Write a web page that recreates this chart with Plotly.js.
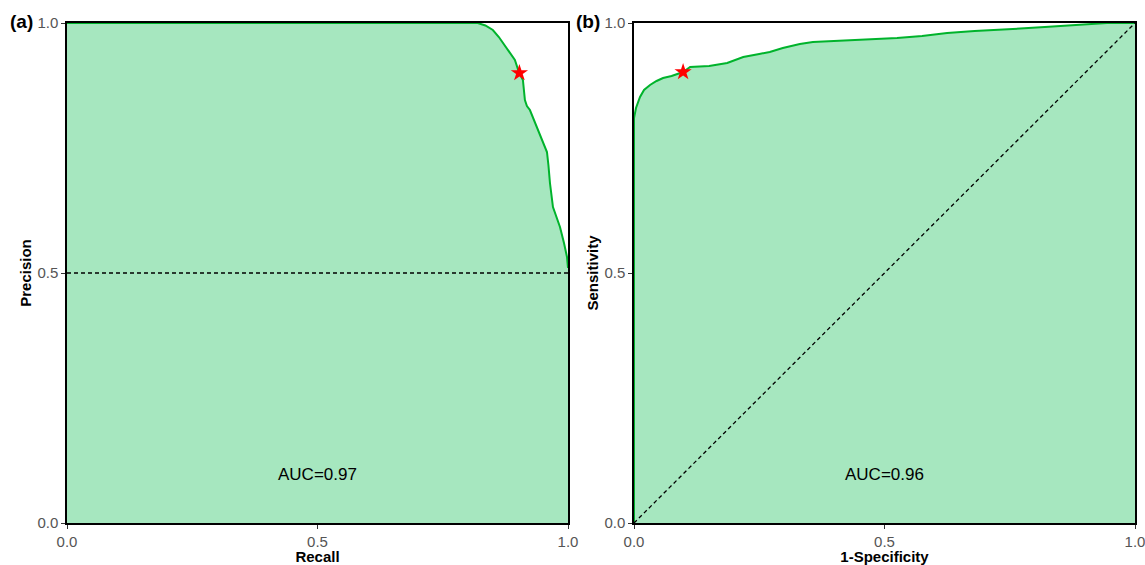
<!DOCTYPE html>
<html>
<head>
<meta charset="utf-8">
<script src="https://cdn.plot.ly/plotly-3.0.1.min.js"></script>
<style>html,body{margin:0;padding:0;background:#fff}#chart{width:1145px;height:565px}</style>
</head>
<body>
<div id="chart"></div>
<script>
// Panel (a): precision-recall curve
const recall = [0, 0.82, 0.835, 0.85, 0.862, 0.87, 0.885, 0.894, 0.902, 0.91, 0.914, 0.918, 0.924, 0.938, 0.948, 0.958, 0.961, 0.964, 0.97, 0.978, 0.984, 0.992, 0.998, 1.0];
const precision = [1, 1, 0.995, 0.986, 0.972, 0.96, 0.94, 0.926, 0.902, 0.886, 0.846, 0.834, 0.826, 0.792, 0.77, 0.742, 0.715, 0.68, 0.632, 0.61, 0.592, 0.56, 0.532, 0.51];
const prPoint = {x: [0.903], y: [0.9]};
const prBaseline = {x: [0, 1], y: [0.5, 0.5]};
const prAUC = "AUC=0.97";

// Panel (b): ROC curve
const fpr = [0, 0, 0.004, 0.012, 0.02, 0.032, 0.045, 0.058, 0.075, 0.098, 0.112, 0.15, 0.186, 0.218, 0.25, 0.271, 0.297, 0.331, 0.357, 0.4, 0.457, 0.525, 0.575, 0.625, 0.68, 0.725, 0.756, 0.82, 0.876, 0.944, 1.0];
const tpr = [0, 0.81, 0.83, 0.852, 0.866, 0.876, 0.884, 0.89, 0.894, 0.902, 0.912, 0.914, 0.92, 0.932, 0.938, 0.942, 0.95, 0.958, 0.962, 0.964, 0.966, 0.97, 0.974, 0.98, 0.984, 0.986, 0.988, 0.992, 0.996, 1.0, 1.0];
const rocPoint = {x: [0.098], y: [0.902]};
const rocDiagonal = {x: [0, 1], y: [0, 1]};
const rocAUC = "AUC=0.96";

const panelLabels = ["(a)", "(b)"];
const tickVals = [0, 0.5, 1];
const tickText = ["0.0", "0.5", "1.0"];

const fillColor = "rgba(166,231,191,1)";
const lineColor = "#00b32c";
const FONT = "Liberation Sans, Arial, Helvetica, sans-serif";

const traces = [
  {x: recall, y: precision, type: "scatter", mode: "lines", fill: "tozeroy",
   fillcolor: fillColor, line: {color: lineColor, width: 2}, xaxis: "x", yaxis: "y", hoverinfo: "skip"},
  {x: prBaseline.x, y: prBaseline.y, type: "scatter", mode: "lines",
   line: {color: "#000", width: 1.3, dash: "4px,3px"}, xaxis: "x", yaxis: "y"},
  {x: prPoint.x, y: prPoint.y, type: "scatter", mode: "markers",
   marker: {symbol: "star", color: "#ff0000", size: 13, line: {width: 0}}, xaxis: "x", yaxis: "y"},
  {x: fpr, y: tpr, type: "scatter", mode: "lines", fill: "tozeroy",
   fillcolor: fillColor, line: {color: lineColor, width: 2}, xaxis: "x2", yaxis: "y2", hoverinfo: "skip"},
  {x: rocDiagonal.x, y: rocDiagonal.y, type: "scatter", mode: "lines",
   line: {color: "#000", width: 1.3, dash: "4px,3px"}, xaxis: "x2", yaxis: "y2"},
  {x: rocPoint.x, y: rocPoint.y, type: "scatter", mode: "markers",
   marker: {symbol: "star", color: "#ff0000", size: 13, line: {width: 0}}, xaxis: "x2", yaxis: "y2"}
];

const W = 1145, H = 565;
const yDom = [(H - 523) / H, (H - 23) / H];

function axis(dom, anchor, title, isY) {
  return {
    domain: dom, anchor: anchor, range: [0, 1], tickvals: tickVals, ticktext: tickText,
    showgrid: false, zeroline: false, showline: true, mirror: true,
    linecolor: "#000", linewidth: 1.6, ticks: "outside", ticklen: 4, tickcolor: "#333", tickwidth: 1,
    tickfont: {family: FONT, size: 15, color: "#555"}, ticklabeloverflow: "allow",
    title: {text: title, font: {family: FONT, size: 15, color: "#000", weight: "bold"}, standoff: isY ? 2 : 4},
    automargin: false, fixedrange: true
  };
}

const layout = {
  width: W, height: H, margin: {l: 0, r: 0, t: 0, b: 0},
  paper_bgcolor: "#fff", plot_bgcolor: "#fff", showlegend: false,
  xaxis: axis([67 / W, 568 / W], "y", "Recall", false),
  yaxis: axis(yDom, "x", "Precision", true),
  xaxis2: axis([634 / W, 1135 / W], "y2", "1-Specificity", false),
  yaxis2: axis(yDom, "x2", "Sensitivity", true),
  annotations: [
    {text: panelLabels[0], xref: "paper", yref: "paper", x: 8 / W, y: (H - 22) / H, xanchor: "left", yanchor: "middle",
     showarrow: false, font: {family: FONT, size: 19, color: "#000", weight: "bold"}},
    {text: panelLabels[1], xref: "paper", yref: "paper", x: 574 / W, y: (H - 22) / H, xanchor: "left", yanchor: "middle",
     showarrow: false, font: {family: FONT, size: 19, color: "#000", weight: "bold"}},
    {text: prAUC, xref: "x", yref: "y", x: 0.5, y: 0.098, showarrow: false,
     font: {family: FONT, size: 17, color: "#000"}},
    {text: rocAUC, xref: "x2", yref: "y2", x: 0.5, y: 0.098, showarrow: false,
     font: {family: FONT, size: 17, color: "#000"}}
  ]
};

Plotly.newPlot("chart", traces, layout, {staticPlot: true, displayModeBar: false});
</script>
</body>
</html>
